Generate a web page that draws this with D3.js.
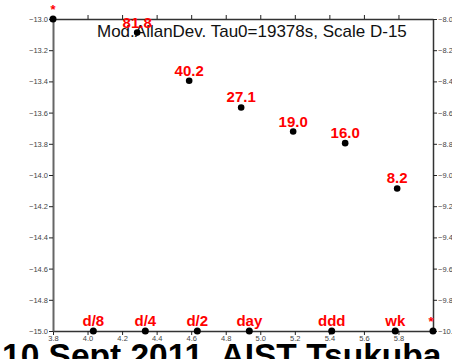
<!DOCTYPE html>
<html>
<head>
<meta charset="utf-8">
<script src="https://cdn.jsdelivr.net/npm/d3@7"></script>
<style>
  html, body { margin: 0; padding: 0; background: #fff; overflow: hidden; }
  svg { display: block; font-family: "Liberation Sans", Arial, sans-serif; }
</style>
</head>
<body>
<svg id="chart" width="452" height="359"></svg>
<script>
// Averaging times (s) and modified Allan deviation, in units of 1e-15
const tauSeconds = [19378, 38756, 77512, 155024, 310048, 620096];
const devValues = [81.8, 40.2, 27.1, 19.0, 16.0, 8.2];
const devLabels = ["81.8", "40.2", "27.1", "19.0", "16.0", "8.2"];

// Reference intervals marked along the bottom axis
const markerNames = ["d/8", "d/4", "d/2", "day", "ddd", "wk"];
const markerSeconds = [10800, 21600, 43200, 86400, 259200, 604800];

// Axis ticks (log10 values)
const xTicks = [3.8, 4.0, 4.2, 4.4, 4.6, 4.8, 5.0, 5.2, 5.4, 5.6, 5.8];
const xTopTicks = [4.0, 4.2, 4.4, 4.6, 4.8, 5.0, 5.2, 5.4, 5.6, 5.8];
const yLeftTicks = [-13.0, -13.2, -13.4, -13.6, -13.8, -14.0, -14.2, -14.4, -14.6, -14.8, -15.0];
const yRightTicks = [-8.0, -8.2, -8.4, -8.6, -8.8, -9.0, -9.2, -9.4, -9.6, -9.8, -10.0];

const titleText = "Mod.AllanDev. Tau0=19378s, Scale D-15";
const footerText = "10 Sept 2011, AIST Tsukuba";

const svg = d3.select("#chart");
const L = 53, R = 433, T = 19, B = 331;

const xLin = d3.scaleLinear().domain([3.8, 6.0]).range([L, R]);
const xLog = d3.scaleLog().domain([Math.pow(10, 3.8), 1e6]).range([L, R]);
const yLeft = d3.scaleLinear().domain([-15, -13]).range([B, T]);
const yRight = d3.scaleLinear().domain([-10, -8]).range([B, T]);
const yDev = d3.scaleLog().domain([1, 100]).range([B, T]); // 1e-15 .. 1e-13

const fmt = d3.format(".1f");
function styleAxis(g) {
  g.selectAll(".domain").attr("stroke", "#333").attr("stroke-width", 1.5);
  g.selectAll(".tick line").attr("stroke", "#222").attr("stroke-width", 1);
  g.selectAll(".tick text").attr("fill", "#444").attr("font-size", 7.5)
    .attr("font-family", "Liberation Sans, Arial, sans-serif");
}

// axes
svg.append("g").attr("transform", `translate(0,${B})`)
  .call(d3.axisBottom(xLin).tickValues(xTicks).tickFormat(fmt).tickSizeInner(4).tickSizeOuter(0).tickPadding(1))
  .call(styleAxis);
svg.append("g").attr("transform", `translate(0,${T})`)
  .call(d3.axisTop(xLin).tickValues(xTopTicks).tickFormat("").tickSizeInner(4).tickSizeOuter(0))
  .call(styleAxis);
svg.append("g").attr("transform", `translate(${L},0)`)
  .call(d3.axisLeft(yLeft).tickValues(yLeftTicks).tickFormat(fmt).tickSizeInner(4).tickSizeOuter(0).tickPadding(1))
  .call(styleAxis)
  .call(g => g.select(".domain").attr("stroke", "#666").attr("stroke-width", 2));
svg.append("g").attr("transform", `translate(${R},0)`)
  .call(d3.axisRight(yRight).tickValues(yRightTicks).tickFormat(fmt).tickSizeInner(4).tickSizeOuter(0).tickPadding(1))
  .call(styleAxis);

// title inside the plot
svg.append("text").attr("x", 97).attr("y", 37)
  .attr("font-size", 17).attr("fill", "#111").text(titleText);

// corner markers
const corners = [[3.8, -13], [6.0, -15]];
svg.selectAll("circle.corner").data(corners).join("circle")
  .attr("class", "corner")
  .attr("cx", d => xLin(d[0])).attr("cy", d => yLeft(d[1])).attr("r", 3.5).attr("fill", "#000");
svg.selectAll("text.star").data(corners).join("text")
  .attr("class", "star")
  .attr("x", (d, i) => xLin(d[0]) - (i ? 2 : 0)).attr("y", d => yLeft(d[1]) - 5)
  .attr("text-anchor", "middle").attr("font-size", 13).attr("font-weight", "bold")
  .attr("fill", "#ff0000").text("*");

// deviation points and their values
svg.selectAll("text.dev").data(devValues).join("text")
  .attr("class", "dev")
  .attr("x", (d, i) => xLog(tauSeconds[i])).attr("y", d => yDev(d) - 5)
  .attr("text-anchor", "middle").attr("font-size", 15).attr("font-weight", "bold")
  .attr("fill", "#ff0000").text((d, i) => devLabels[i]);
svg.selectAll("circle.dev").data(devValues).join("circle")
  .attr("class", "dev")
  .attr("cx", (d, i) => xLog(tauSeconds[i])).attr("cy", d => yDev(d)).attr("r", 3.3).attr("fill", "#000");

// interval markers on the bottom axis
svg.selectAll("circle.mk").data(markerSeconds).join("circle")
  .attr("class", "mk")
  .attr("cx", d => xLog(d)).attr("cy", B).attr("r", 3.5).attr("fill", "#000");
svg.selectAll("text.mk").data(markerSeconds).join("text")
  .attr("class", "mk")
  .attr("x", d => xLog(d)).attr("y", B - 5)
  .attr("text-anchor", "middle").attr("font-size", 15).attr("font-weight", "bold")
  .attr("fill", "#ff0000").text((d, i) => markerNames[i]);

// footer caption
svg.append("text").attr("x", 2).attr("y", 367)
  .attr("font-size", 33.5).attr("font-weight", "bold").attr("fill", "#000").text(footerText);
</script>
</body>
</html>
